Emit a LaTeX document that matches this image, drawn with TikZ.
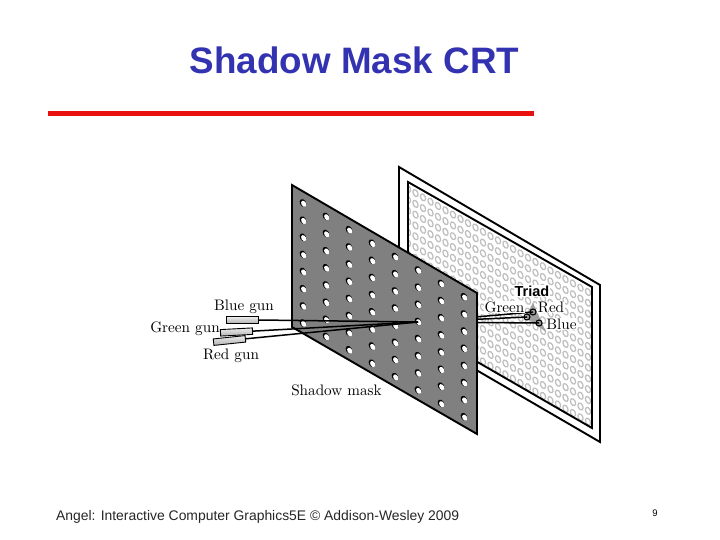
\documentclass[tikz,border=0pt]{standalone}
\usepackage{fontspec}
\setsansfont{Liberation Sans}
\definecolor{titleblue}{RGB}{51,51,178}
\definecolor{rulered}{RGB}{232,16,16}
\tikzset{
  frame/.style={draw=black,line width=1.9pt,line join=miter},
  beam/.style={draw=black,line width=1.5pt},
  gunbox/.style={draw=black,line width=0.9pt,top color=gray!15,bottom color=gray!60,minimum width=32pt,minimum height=6.5pt,inner sep=0pt},
  label/.style={font=\fontsize{10}{12}\selectfont\addfontfeatures{FakeBold=0.4},scale=1.52,transform shape,inner sep=0.3pt},
  screenlabel/.style={label,fill=white},
}
\def\maskhole(#1,#2);%
{
  \fill[black,shift={(#1,#2)},rotate=30] (0,0) ellipse (3pt and 4.2pt);
  \fill[white,shift={(#1,#2)},shift={(0.7pt,-0.8pt)},rotate=30] (0,0) ellipse (2.3pt and 3.3pt);
}
\begin{document}
\begin{tikzpicture}[x=1pt,y=-1pt]
  \useasboundingbox (0,0) rectangle (720,540);
  % title
  \node[font=\sffamily\bfseries\fontsize{36.8}{40}\selectfont,text=titleblue,inner sep=0pt] (title) at (354.5,60.5) {Shadow Mask CRT};
  \fill[rulered] (48,111.5) rectangle (534,116.5);
  % screen
  \draw[frame,fill=white] (399,167) -- (600,285) -- (600,442) -- (399,325) -- cycle;
  \begin{scope}
    \clip (408,182) -- (592,287) -- (592,428) -- (408,322) -- cycle;
    \foreach \X in {0,...,25} { \foreach \Y in {-1,...,24} {
      \draw[gray!50,line width=1.25pt,shift={({408+7.5*\X},{178+4.3*\X+10.8*\Y})},rotate=25] (0,0) ellipse (2.3pt and 3.7pt);
    }; };
  \end{scope}
  \draw[frame] (408,182) -- (592,287) -- (592,428) -- (408,322) -- cycle;
  % triad
  \coordinate (hole) at (418,322);
  \coordinate (reddot) at (533,312);
  \coordinate (greendot) at (527,317);
  \coordinate (bluedot) at (539,323);
  \fill[gray!75] (533,303) -- (546,332) -- (525,317) -- cycle;
  % beams behind the mask
  \draw[beam] (hole) -- (reddot);
  \draw[beam] (hole) -- (greendot);
  \draw[beam] (hole) -- (bluedot);
  \foreach \P in {reddot,greendot,bluedot} { \draw[black,line width=1.1pt] (\P) circle (3pt); };
  % mask
  \draw[frame,fill=gray] (292,185) -- (477,293) -- (477,434) -- (292,327) -- cycle;
  \foreach \X in {0,...,7} { \foreach \Y in {0,...,7} {
    \pgfmathsetmacro{\HX}{303+23*\X}
    \pgfmathsetmacro{\HY}{203+13.4*\X+17.15*\Y}
    \maskhole(\HX,\HY);
  }; };
  % guns
  \node[gunbox] (bluegun) at (242,320) {};
  \node[gunbox,rotate=3] (greengun) at (236.5,332) {};
  \node[gunbox,rotate=6] (redgun) at (229.5,340.5) {};
  \draw[beam] (bluegun.east) -- (hole);
  \draw[beam] (greengun.east) -- (hole);
  \draw[beam] (redgun.east) -- (hole);
  % labels
  \node[label] (bluelabel) at (244,306.5) {Blue gun};
  \node[label] (greenlabel) at (185,328.5) {Green gun};
  \node[label] (redlabel) at (231,356) {Red gun};
  \node[label] (masklabel) at (336.5,390.5) {Shadow mask};
  \node[screenlabel] (triadgreen) at (504.5,307) {Green};
  \node[screenlabel] (triadred) at (551,307.5) {Red};
  \node[screenlabel] (triadblue) at (561.5,324) {Blue};
  \node[font=\sffamily\bfseries\fontsize{14.5}{16}\selectfont,fill=white,inner sep=0.5pt] (triad) at (532,291) {Triad};
  % footer
  \node[font=\sffamily\fontsize{13.9}{16}\selectfont,text=black!85,anchor=west,inner sep=0pt] (footer) at (56,517) {Angel: Interactive Computer Graphics5E \textcopyright{} Addison-Wesley 2009};
  \node[font=\sffamily\fontsize{9.5}{11}\selectfont,inner sep=0pt] (pagenum) at (655,513) {9};
\end{tikzpicture}
\end{document}
